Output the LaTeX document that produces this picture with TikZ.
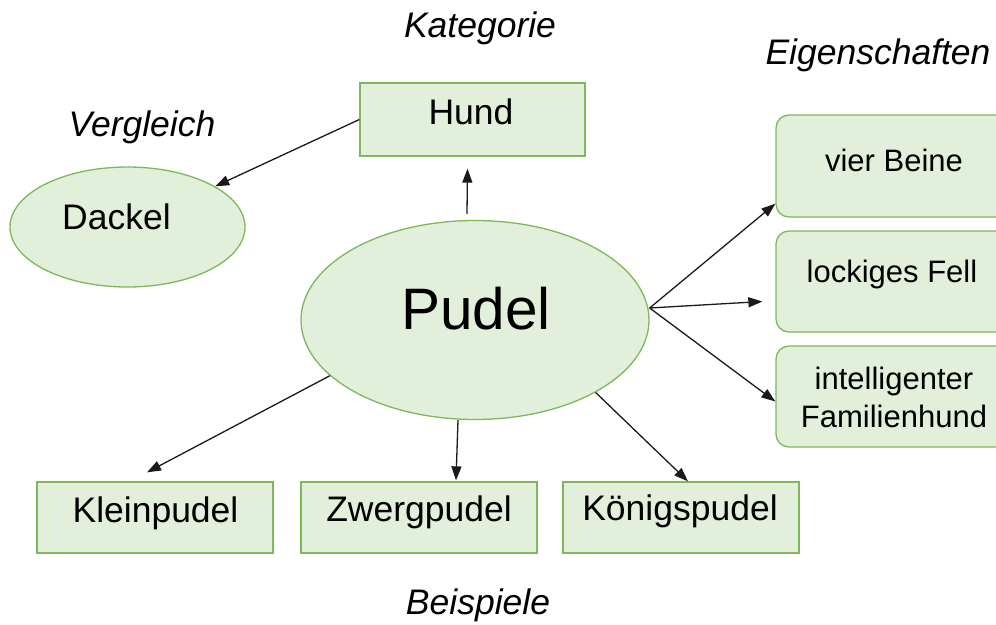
\documentclass[tikz,border=0pt]{standalone}
\usepackage{fontspec}
\setmainfont{Liberation Sans}
\usetikzlibrary{arrows.meta,shapes.geometric}
\definecolor{grn}{HTML}{7DB85A}
\definecolor{lgrn}{HTML}{E2EFDA}
\definecolor{ink}{HTML}{1A1A1A}
\tikzset{
  shp/.style={draw=grn, fill=lgrn, line width=1.3pt, inner sep=0pt},
  rbox/.style={shp, rectangle},
  rrbox/.style={shp, rectangle, rounded corners=13pt, minimum width=236pt, minimum height=101pt},
  oval/.style={shp, ellipse},
  txt/.style={inner sep=0pt, font=\fontsize{35.5}{42}\selectfont, text=black},
  stxt/.style={inner sep=0pt, font=\fontsize{31}{38}\selectfont, text=black, align=center},
  itxt/.style={inner sep=0pt, font=\fontsize{35.5}{42}\selectfont\itshape, text=black},
  arr/.style={draw=ink, line width=1.3pt, -{Triangle[length=14pt,width=10pt]}}
}
\begin{document}
\begin{tikzpicture}[x=1pt,y=-1pt]
\useasboundingbox (0,0) rectangle (996,624);
\fill[white] (0,0) rectangle (996,624);
% shapes
\node[rbox, minimum width=225pt, minimum height=73pt] (hund) at (472.5,119.5) {};
\node[oval, minimum width=235pt, minimum height=120pt] (dackel) at (127.5,227) {};
\node[oval, minimum width=348pt, minimum height=199pt] (pudel) at (475,320) {};
\node[rrbox, minimum height=102pt] (vier) at (894,166) {};
\node[rrbox] (fell) at (894,281.5) {};
\node[rrbox] (fam) at (894,396.5) {};
\node[rbox, minimum width=236pt, minimum height=71pt] (klein) at (155,517.5) {};
\node[rbox, minimum width=236pt, minimum height=71pt] (zwerg) at (419,517.5) {};
\node[rbox, minimum width=236pt, minimum height=71pt] (koenig) at (681,517.5) {};
% texts
\node[itxt] (tkat) at (480,28) {Kategorie};
\node[itxt] (tvgl) at (142,127) {Vergleich};
\node[itxt] (teig) at (878,55) {Eigenschaften};
\node[itxt] (tbsp) at (478,605) {Beispiele};
\node[txt] (thund) at (471,111.5) {Hund};
\node[txt] (tdackel) at (116.5,217) {Dackel};
\node[inner sep=0pt, font=\fontsize{58.5}{66}\selectfont] (tpudel) at (476,308.5) {Pudel};
\node[stxt] (tvier) at (894,160) {vier Beine};
\node[stxt] (tfell) at (892,274) {lockiges Fell};
\node[stxt] (tfam) at (894,397.5) {intelligenter\\Familienhund};
\node[txt] (tklein) at (155.5,513) {Kleinpudel};
\node[txt] (tzwerg) at (419,512) {Zwergpudel};
\node[txt] (tkoenig) at (680,511) {Königspudel};
% connectors
\draw[arr] (hund.west) -- (dackel);
\draw[arr] ([shift={(-8,-6)}]pudel.north) -- ([shift={(-5,12)}]hund.south);
\draw[arr] ([shift={(0,-12)}]pudel.east) -- ([shift={(0,-14)}]vier.south west);
\draw[arr] ([shift={(0,-12)}]pudel.east) -- ([shift={(-13,20)}]fell.west);
\draw[arr] ([shift={(0,-12)}]pudel.east) -- ([shift={(0,5)}]fam.west);
\draw[arr] (pudel.201) -- ([shift={(-8,-9)}]klein.north);
\draw[arr] ([shift={(-17,0)}]pudel.south) -- ([shift={(37,-1)}]zwerg.north);
\draw[arr] (pudel.329) -- ([shift={(7,0)}]koenig.north);
\end{tikzpicture}
\end{document}
